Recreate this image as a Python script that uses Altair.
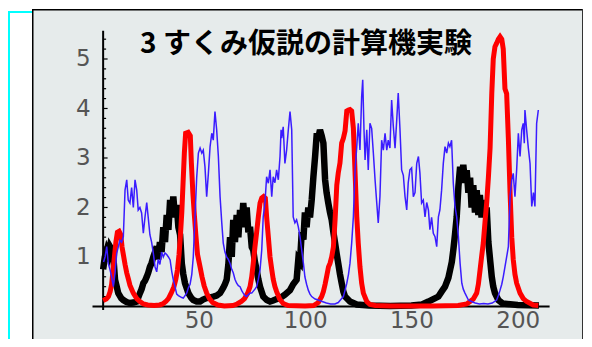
import altair as alt
import pandas as pd

TITLE = "3 すくみ仮説の計算機実験"

x_ticks = [50, 100, 150, 200]
y_ticks = [1, 2, 3, 4, 5]
y_minor = [round(0.2 * i, 1) for i in range(1, 28) if i % 5 != 0]

black = [
    (5, 0.75), (5.8, 1.0), (6.7, 1.14), (7.5, 1.05), (8.2, 1.21), (9.0, 1.15), (9.8, 1.0),
    (10.6, 0.54), (11.4, 0.4), (12.1, 0.27), (13.5, 0.17), (14.5, 0.13), (16, 0.09), (17.6, 0.07),
    (19.2, 0.08), (20.8, 0.1), (22.3, 0.27), (23.1, 0.35), (23.9, 0.47), (24.7, 0.52), (25.5, 0.6),
    (26.2, 0.68), (27.0, 0.8), (27.8, 0.88), (28.6, 1.0), (29.4, 1.1), (30.2, 1.21), (30.9, 0.95),
    (31.7, 1.3), (32.5, 1.1), (33.3, 1.6), (34.1, 1.3), (34.9, 1.85), (35.7, 1.55), (36.5, 2.15),
    (37.3, 1.8), (38.0, 2.22), (38.8, 1.8), (39.6, 2.05), (40.4, 1.6), (41.2, 1.45), (42.0, 0.87),
    (42.7, 0.65), (43.5, 0.47), (45.1, 0.27), (46.5, 0.17), (47.4, 0.13), (49, 0.1), (50.6, 0.1),
    (52, 0.14), (53.7, 0.17), (55, 0.18), (56.8, 0.2), (58.4, 0.22), (60.0, 0.27), (61.5, 0.38),
    (62.3, 0.45), (63.1, 0.54), (63.9, 0.85), (64.7, 1.4), (65.5, 1.0), (66.2, 1.75), (67.0, 1.3),
    (67.8, 1.85), (68.6, 1.4), (69.4, 1.95), (70.2, 1.6), (70.9, 2.09), (71.7, 1.7), (72.5, 2.0),
    (73.3, 1.5), (74.1, 1.61), (74.9, 1.2), (75.6, 1.14), (76.4, 0.9), (77.2, 0.74), (78.0, 0.55),
    (78.8, 0.4), (80.3, 0.2), (82, 0.13), (83.5, 0.1), (85, 0.12), (86.6, 0.15), (88.2, 0.17),
    (90.5, 0.24), (92.9, 0.33), (94.4, 0.45), (96.0, 0.54), (96.8, 0.95), (97.6, 0.9), (98.4, 1.5),
    (99.2, 1.35), (99.9, 1.9), (100.7, 1.6), (101.5, 2.0), (102.3, 1.8), (103.1, 2.15), (103.9, 2.62),
    (104.7, 3.03), (105.5, 3.5), (106.2, 3.4), (107.0, 3.57), (107.8, 3.45), (108.6, 3.3),
    (109.4, 2.56), (110.1, 2.3), (110.9, 2.09), (111.7, 1.9), (112.5, 1.75), (113.3, 1.5),
    (114.1, 1.28), (114.9, 1.05), (115.6, 0.87), (116.4, 0.65), (117.2, 0.47), (118.0, 0.3),
    (118.8, 0.2), (121.1, 0.1), (124.3, 0.04), (130, 0.02), (140, 0.01), (150, 0.02), (155, 0.04),
    (158.0, 0.1), (160.3, 0.15), (162.7, 0.2), (164.2, 0.3), (165.8, 0.4), (167.4, 0.58),
    (168.2, 0.74), (169.0, 0.9), (169.7, 1.14), (170.5, 1.45), (171.3, 1.81), (172.1, 2.42),
    (172.9, 2.82), (173.7, 2.6), (174.4, 2.86), (175.2, 2.5), (176.0, 2.75), (176.8, 2.3),
    (177.6, 2.6), (178.3, 2.0), (179.1, 2.45), (179.9, 1.9), (180.7, 2.35), (181.5, 1.85),
    (182.2, 2.25), (183.0, 1.8), (183.8, 2.15), (184.6, 1.8), (185.4, 2.0), (186.2, 1.3),
    (187.0, 0.95), (187.8, 0.6), (188.5, 0.4), (189.3, 0.27), (190.9, 0.13), (193, 0.06),
    (200, 0.03), (210, 0.02),
]

red = [
    (5, 0.12), (6.5, 0.15), (7.5, 0.2), (8.3, 0.3), (9.0, 0.45), (9.6, 0.7), (10.3, 1.0),
    (11.0, 1.3), (11.7, 1.5), (12.5, 1.52), (13.3, 1.45), (13.9, 1.2), (14.5, 1.05), (15.3, 0.85),
    (16.1, 0.68), (16.9, 0.55), (17.6, 0.43), (18.4, 0.35), (19.2, 0.27), (20.8, 0.16), (22.3, 0.1),
    (24, 0.05), (26, 0.03), (29, 0.02), (31.5, 0.03), (33, 0.05), (34.5, 0.1), (35.7, 0.16),
    (37, 0.27), (38.3, 0.4), (39.2, 0.55), (40.0, 0.75), (40.7, 1.05), (41.3, 1.4), (42.0, 1.9),
    (42.6, 2.5), (43.2, 3.1), (43.8, 3.5), (45.0, 3.52), (46.0, 3.45), (46.5, 2.9), (47.2, 2.3),
    (47.9, 1.85), (48.6, 1.45), (49.4, 1.05), (50.6, 0.8), (51.5, 0.6), (52.5, 0.42), (53.7, 0.27),
    (55, 0.16), (56.5, 0.08), (59, 0.03), (62, 0.01), (66, 0.02), (68, 0.05), (70, 0.1),
    (71.5, 0.16), (73, 0.27), (74.1, 0.4), (74.9, 0.6), (75.6, 0.87), (76.4, 1.2), (77.2, 1.5),
    (78.0, 1.81), (78.8, 2.09), (79.6, 2.19), (80.5, 2.22), (81.3, 2.19), (81.9, 1.81), (82.7, 1.41),
    (83.5, 1.0), (84.3, 0.75), (85.0, 0.55), (85.8, 0.4), (86.6, 0.3), (88.0, 0.15), (89.7, 0.06),
    (92, 0.02), (100, 0.01), (104, 0.02), (106.2, 0.08), (107.8, 0.2), (108.6, 0.3), (109.4, 0.45),
    (110.2, 0.62), (111.0, 0.8), (111.7, 0.87), (112.5, 1.0), (113.3, 1.2), (114.1, 1.75),
    (114.9, 2.45), (115.6, 2.7), (116.4, 2.9), (117.2, 3.3), (118.0, 3.4), (118.8, 3.55),
    (119.6, 3.95), (120.4, 3.97), (121.1, 3.98), (121.9, 3.95), (122.7, 3.6), (123.5, 2.7),
    (124.3, 1.81), (125.0, 1.28), (125.8, 0.8), (126.6, 0.47), (127.4, 0.27), (129.0, 0.1),
    (130.5, 0.04), (133, 0.02), (140, 0.01), (160, 0.01), (172, 0.02), (176, 0.05), (177.6, 0.1),
    (179.1, 0.15), (180.7, 0.27), (181.5, 0.45), (182.3, 0.74), (183.0, 1.0), (183.8, 1.28),
    (184.6, 1.7), (185.4, 2.09), (186.2, 2.6), (187.0, 3.2), (187.8, 4.3), (188.5, 5.0),
    (189.3, 5.25), (190.1, 5.32), (190.9, 5.4), (191.7, 5.45), (192.5, 5.4), (193.2, 5.2),
    (194.0, 4.4), (194.8, 4.3), (195.6, 3.4), (196.4, 2.3), (197.2, 1.4), (197.9, 0.95),
    (198.7, 0.65), (199.5, 0.47), (201.1, 0.27), (202.6, 0.16), (204.2, 0.1), (207.3, 0.03),
    (209.7, 0.02),
]

blue = [
    (5.2, 0.9), (5.9, 1.0), (6.7, 1.21), (7.4, 0.87), (8.2, 0.75), (9.0, 0.6), (9.8, 0.4),
    (10.6, 0.68), (11.4, 1.08), (12.1, 1.2), (12.9, 1.34), (13.7, 1.3), (14.5, 1.41), (15.3, 2.35),
    (16.1, 2.56), (16.8, 2.15), (17.6, 2.09), (18.4, 2.4), (19.2, 2.0), (20.0, 2.56), (20.8, 2.35),
    (21.5, 1.95), (22.3, 2.0), (23.1, 1.89), (23.9, 1.48), (24.7, 1.81), (25.5, 2.1), (26.2, 1.8),
    (27.0, 1.45), (27.8, 1.3), (28.6, 1.08), (29.4, 0.8), (30.2, 0.7), (30.9, 0.95), (31.7, 0.85),
    (32.5, 1.1), (33.3, 1.0), (34.1, 1.08), (34.9, 1.05), (35.7, 1.0), (36.5, 0.94), (37.3, 0.7),
    (38.0, 0.54), (38.8, 0.4), (39.6, 0.25), (40.4, 0.22), (41.2, 0.2), (42.0, 0.18), (42.7, 0.17),
    (43.5, 0.22), (44.3, 0.27), (45.1, 0.38), (45.9, 0.45), (46.7, 0.65), (47.4, 1.0), (48.2, 1.8),
    (49.0, 2.6), (49.8, 3.1), (50.6, 3.2), (51.4, 3.1), (52.1, 3.16), (52.9, 2.82), (53.7, 2.22),
    (54.5, 2.69), (55.3, 3.23), (56.1, 3.5), (56.8, 3.36), (57.6, 3.94), (58.4, 3.57), (59.2, 3.03),
    (60.0, 2.22), (60.8, 1.69), (61.5, 1.28), (62.3, 1.1), (63.1, 1.0), (63.9, 0.95), (64.7, 0.87),
    (65.5, 0.75), (66.2, 0.68), (67.0, 0.55), (67.8, 0.47), (68.6, 0.42), (69.4, 0.4), (70.2, 0.32),
    (70.9, 0.27), (71.7, 0.22), (72.5, 0.2), (73.3, 0.24), (74.1, 0.27), (74.9, 0.27), (76.4, 0.35),
    (77.2, 0.4), (78.0, 0.55), (78.8, 0.74), (79.6, 1.14), (80.3, 1.81), (81.1, 2.09), (81.9, 2.62),
    (82.7, 2.49), (83.5, 2.76), (84.3, 2.22), (85.0, 2.62), (85.8, 2.5), (86.6, 2.76), (87.4, 2.56),
    (88.2, 3.03), (88.7, 3.57), (89.0, 3.4), (89.7, 3.63), (90.5, 2.89), (91.3, 3.16), (92.1, 3.57),
    (92.9, 3.94), (93.7, 3.57), (94.4, 1.81), (95.2, 1.69), (96.0, 1.75), (96.8, 1.61), (97.6, 1.41),
    (98.4, 1.14), (99.2, 0.87), (99.9, 0.6), (100.7, 0.45), (101.5, 0.33), (102.3, 0.25),
    (103.1, 0.2), (104.7, 0.15), (106.2, 0.13), (108, 0.1), (110, 0.07), (112, 0.05), (114, 0.05),
    (115.6, 0.08), (116.4, 0.12), (117.2, 0.16), (118.0, 0.2), (118.8, 0.33), (119.6, 0.47),
    (120.4, 0.65), (121.1, 0.87), (121.9, 1.28), (122.7, 1.81), (123.5, 2.76), (124.3, 3.23),
    (125.0, 3.7), (125.8, 3.16), (126.6, 4.24), (127.1, 4.58), (127.7, 3.57), (128.2, 2.96),
    (129.0, 3.57), (129.7, 2.76), (130.5, 3.7), (131.3, 3.6), (132.1, 3.1), (132.9, 2.56),
    (133.7, 2.09), (134.4, 1.69), (135.2, 2.22), (136.0, 3.36), (136.8, 3.16), (137.6, 3.5),
    (138.4, 3.16), (139.1, 3.36), (139.9, 3.2), (140.7, 4.17), (141.5, 3.63), (142.3, 3.2),
    (143.1, 3.77), (143.8, 4.31), (144.6, 3.6), (145.4, 2.76), (146.2, 2.65), (147.0, 2.22),
    (147.8, 1.95), (148.5, 2.5), (149.3, 2.76), (150.1, 2.8), (150.9, 2.22), (151.7, 2.3),
    (152.5, 2.89), (153.3, 3.03), (154.0, 2.7), (154.8, 2.09), (155.6, 2.15), (156.4, 1.81),
    (157.2, 2.1), (158.0, 1.95), (158.7, 1.55), (159.5, 1.8), (160.3, 1.48), (161.1, 1.41),
    (161.9, 1.21), (162.7, 1.81), (163.4, 1.95), (164.2, 2.35), (165.0, 2.89), (165.8, 3.23),
    (166.6, 3.1), (167.4, 3.3), (168.1, 3.23), (168.9, 3.36), (169.7, 2.49), (170.5, 2.02),
    (171.3, 1.81), (172.1, 1.41), (172.9, 0.87), (173.7, 0.47), (174.4, 0.35), (175.2, 0.27),
    (176.8, 0.13), (178.3, 0.1), (180, 0.07), (182, 0.05), (184, 0.06), (186, 0.05), (188, 0.07),
    (190.1, 0.13), (190.9, 0.22), (191.7, 0.33), (192.5, 0.45), (193.2, 0.6), (194.0, 0.8),
    (194.8, 1.0), (195.6, 1.21), (196.4, 2.22), (197.2, 2.56), (197.9, 2.69), (198.7, 2.22),
    (199.5, 2.76), (200.3, 3.5), (201.1, 3.03), (201.9, 3.57), (202.6, 3.7), (203.1, 3.3),
    (203.4, 3.97), (204.2, 3.57), (205.0, 3.2), (205.8, 2.89), (206.6, 2.02), (207.4, 2.3),
    (208.1, 2.02), (208.9, 3.7), (209.7, 3.97),
]

# extents of the drawn axes (data units)
X_AXIS = (0, 215)
Y_AXIS_AT = 5
Y_AXIS = (-0.07, 5.57)

W, H = 551, 330
X_DOMAIN = [-28.46, 230.71]
Y_DOMAIN = [-0.657, 6.010]

LABEL_FONT = "DejaVu Sans"
LABEL_COLOR = "#555555"

xscale = alt.Scale(domain=X_DOMAIN, nice=False, zero=False)
yscale = alt.Scale(domain=Y_DOMAIN, nice=False, zero=False)

x_axis = alt.Axis(values=x_ticks, domain=False, ticks=False, tickSize=0, grid=False,
                  labelFont=LABEL_FONT, labelFontSize=23, labelColor=LABEL_COLOR,
                  labelPadding=3, offset=-32.5, title=None, format="d", labelFlush=False)
y_axis = alt.Axis(values=y_ticks, domain=False, ticks=False, tickSize=0, grid=False,
                  labelFont=LABEL_FONT, labelFontSize=23, labelColor=LABEL_COLOR,
                  labelPadding=13, offset=-71.1, title=None, format="d", labelFlush=False)


def X(field):
    return alt.X(f"{field}:Q", scale=xscale, axis=x_axis)


def Y(field):
    return alt.Y(f"{field}:Q", scale=yscale, axis=y_axis)


def df(points):
    return pd.DataFrame(points, columns=["t", "v"])


one = pd.DataFrame({"k": [0]})

axes_df = pd.DataFrame({
    "t": [X_AXIS[0], Y_AXIS_AT], "t2": [X_AXIS[1], Y_AXIS_AT],
    "v": [0, Y_AXIS[0]], "v2": [0, Y_AXIS[1]],
})
axis_lines = alt.Chart(axes_df).mark_rule(color="black", strokeWidth=2).encode(
    x=X("t"), x2="t2", y=Y("v"), y2="v2")

tick_df = pd.DataFrame({
    "t": [Y_AXIS_AT] * (len(y_minor) + len(y_ticks)),
    "t2": [Y_AXIS_AT + 1.4] * len(y_minor) + [Y_AXIS_AT + 2.1] * len(y_ticks),
    "v": y_minor + y_ticks,
})
tick_marks = alt.Chart(tick_df).mark_rule(color="black", strokeWidth=1.2).encode(
    x=X("t"), x2="t2", y=Y("v"))

line_black = alt.Chart(df(black)).mark_line(color="black", strokeWidth=6.5).encode(
    x=X("t"), y=Y("v"))
line_red = alt.Chart(df(red)).mark_line(color="#ff0000", strokeWidth=5).encode(
    x=X("t"), y=Y("v"))
line_blue = alt.Chart(df(blue)).mark_line(color="#3a1cff", strokeWidth=1.5).encode(
    x=X("t"), y=Y("v"))

title = alt.Chart(one).mark_text(
    text=TITLE, font="Noto Sans CJK JP", fontSize=28, fontWeight="bold",
    align="left", baseline="middle", color="black").encode(
    x=alt.value(108), y=alt.value(36))

border_left = alt.Chart(one).mark_rule(color="black", strokeWidth=1.5).encode(
    x=alt.value(0.75), y=alt.value(0), y2=alt.value(H))
border_top = alt.Chart(one).mark_rule(color="black", strokeWidth=1.5).encode(
    x=alt.value(0), x2=alt.value(W), y=alt.value(0.75))
border_right = alt.Chart(one).mark_rule(color="#333333", strokeWidth=1).encode(
    x=alt.value(W - 0.5), y=alt.value(0), y2=alt.value(H))
cyan_v = alt.Chart(one).mark_rule(color="#00ffff", strokeWidth=2).encode(
    x=alt.value(-23), y=alt.value(3), y2=alt.value(H))
cyan_h = alt.Chart(one).mark_rule(color="#00ffff", strokeWidth=2).encode(
    x=alt.value(-24), x2=alt.value(0), y=alt.value(3))

chart = alt.layer(
    axis_lines, tick_marks, line_black, line_red, line_blue, title,
    border_left, border_top, border_right, cyan_v, cyan_h,
).properties(
    width=W, height=H,
    autosize=alt.AutoSizeParams(type="none"),
    padding={"left": 24, "top": 1, "right": 0, "bottom": 0},
    background="white",
).configure_view(fill="#e6ebeb", strokeWidth=0)

chart.save("out.html", embed_options={"renderer": "svg", "actions": False})
